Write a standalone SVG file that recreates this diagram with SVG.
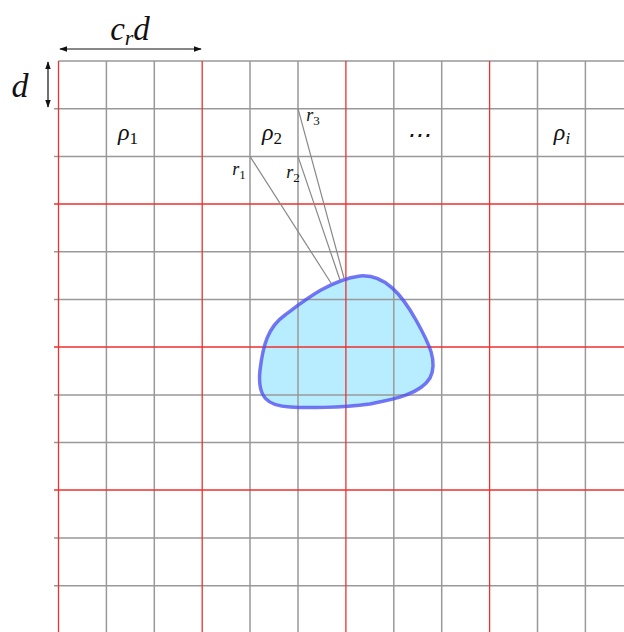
<svg xmlns="http://www.w3.org/2000/svg" width="624" height="632" viewBox="0 0 624 632">
<style>
.g{stroke:#999;stroke-width:1.5;fill:none}
.r{stroke:#ee3030;stroke-width:1.3;fill:none}
.m{font-family:"Liberation Serif","DejaVu Serif",serif;font-style:italic;fill:#111}
.ray{stroke:#888;stroke-width:1.2}
.dim{stroke:#111;stroke-width:1.2;fill:none}
</style>
<defs>
<marker id="ah" viewBox="0 0 10 10" refX="9" refY="5" markerWidth="8" markerHeight="8" orient="auto-start-reverse" markerUnits="userSpaceOnUse">
<path d="M0,1.5 L10,5 L0,8.5 Z" fill="#111"/>
</marker>
</defs>
<rect width="624" height="632" fill="#fff"/>
<g id="blob-fill">
<path d="M 360 276 C 385 274, 402 295, 416 320 C 430 345, 438 362, 430 378 C 420 395, 390 400, 370 404 C 340 408, 305 408, 290 407 C 268 406, 257 398, 260 370 C 263 345, 268 327, 285 315 C 305 300, 330 280, 360 276 Z" fill="#00bfff" fill-opacity="0.28"/>
</g>
<g id="grid">
<path class="g" d="M58.5 61H624 M54 108.7H624 M54 156.4H624 M54 251.8H624 M54 299.5H624 M54 395H624 M54 442.6H624 M54 538H624 M54 585.7H624"/>
<path class="g" d="M106.4 61V632 M154.3 61V632 M250 61V632 M298 61V632 M393.8 61V632 M441.7 61V632 M537.5 61V632 M585.4 61V632"/>
<path class="r" d="M54 204H624 M54 347H624 M54 490H624"/>
<path class="r" d="M58.5 61V632 M202.2 61V632 M345.9 61V632 M489.6 61V632"/>
</g>
<g id="blob">
<path d="M 360 276 C 385 274, 402 295, 416 320 C 430 345, 438 362, 430 378 C 420 395, 390 400, 370 404 C 340 408, 305 408, 290 407 C 268 406, 257 398, 260 370 C 263 345, 268 327, 285 315 C 305 300, 330 280, 360 276 Z" fill="none" stroke="#4a4af0" stroke-opacity="0.75" stroke-width="3.5"/>
</g>
<g id="connectors">
<line class="ray" x1="250" y1="156.4" x2="331" y2="283"/>
<line class="ray" x1="298" y1="156.4" x2="340" y2="280"/>
<line class="ray" x1="298" y1="108.7" x2="344" y2="278"/>
<line class="dim" x1="60" y1="49" x2="201" y2="49" marker-start="url(#ah)" marker-end="url(#ah)"/>
<line class="dim" x1="48" y1="62" x2="48" y2="107" marker-start="url(#ah)" marker-end="url(#ah)"/>
</g>
<g id="labels">
<text class="m" x="130" y="40" font-size="33" text-anchor="middle">c<tspan font-size="22" dy="5">r</tspan><tspan dy="-5">d</tspan></text>
<text class="m" x="20" y="97" font-size="34" text-anchor="middle">d</text>
<text class="m" x="128" y="140" font-size="24" text-anchor="middle">ρ<tspan font-size="17" dy="4" font-style="normal">1</tspan></text>
<text class="m" x="272" y="140" font-size="24" text-anchor="middle">ρ<tspan font-size="17" dy="4" font-style="normal">2</tspan></text>
<text class="m" x="418" y="143" font-size="24" text-anchor="middle" font-style="normal">⋯</text>
<text class="m" x="562" y="140" font-size="24" text-anchor="middle">ρ<tspan font-size="17" dy="4">i</tspan></text>
<text class="m" x="239" y="175" font-size="18" text-anchor="middle">r<tspan font-size="13" dy="4" font-style="normal">1</tspan></text>
<text class="m" x="293" y="178" font-size="18" text-anchor="middle">r<tspan font-size="13" dy="4" font-style="normal">2</tspan></text>
<text class="m" x="313" y="121" font-size="18" text-anchor="middle">r<tspan font-size="13" dy="4" font-style="normal">3</tspan></text>
</g>
</svg>
